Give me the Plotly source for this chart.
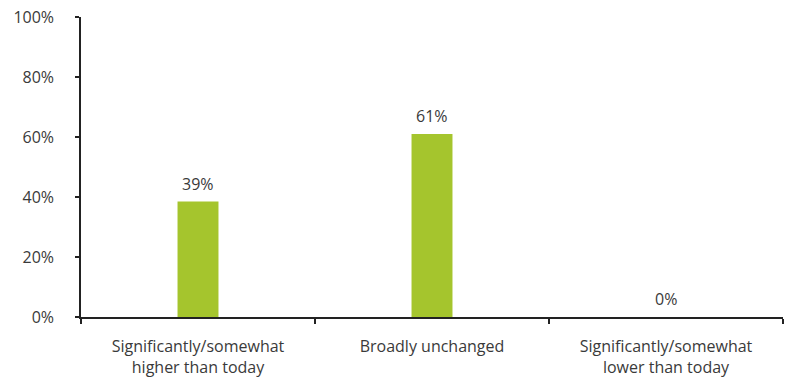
import plotly.graph_objects as go

categories = ["Significantly/somewhat<br>higher than today", "Broadly unchanged", "Significantly/somewhat<br>lower than today"]
values = [38.5, 61, 0]
labels = ["39%", "61%", "0%"]
y_ticks = [0, 20, 40, 60, 80, 100]
y_tick_labels = ["0%", "20%", "40%", "60%", "80%", "100%"]

font_family = "Open Sans, Noto Sans, sans-serif"
text_color = "#3a3a3a"
fs = 16

fig = go.Figure(go.Bar(
    x=categories, y=values,
    marker=dict(color="#a5c52d", line=dict(width=0)),
    width=0.175, cliponaxis=False,
))

for c, v, t in zip(categories, values, labels):
    fig.add_annotation(x=c, y=v, text=t, showarrow=False, yanchor="bottom",
                       yshift=5, font=dict(size=fs, color=text_color, family=font_family))

fig.update_layout(
    width=787, height=378,
    margin=dict(l=81, r=4, t=17, b=61),
    plot_bgcolor="white", paper_bgcolor="white",
    showlegend=False,
    font=dict(family=font_family, size=fs, color=text_color),
)
fig.update_xaxes(
    showline=True, linecolor="#222222", linewidth=1.5,
    ticks="outside", ticklen=5, tickcolor="#222222", tickwidth=1.5,
    tickson="boundaries", showgrid=False, ticklabelstandoff=14, automargin=False,
    tickfont=dict(size=fs, color=text_color, family=font_family),
)
fig.update_yaxes(
    range=[0, 100], tickvals=y_ticks, ticktext=y_tick_labels,
    showline=True, linecolor="#222222", linewidth=1.5,
    ticks="outside", ticklen=4, tickcolor="#222222", tickwidth=1.5,
    showgrid=False, zeroline=False, ticklabelstandoff=18, automargin=False,
    tickfont=dict(size=fs, color=text_color, family=font_family),
)

fig.write_html("out.html")
